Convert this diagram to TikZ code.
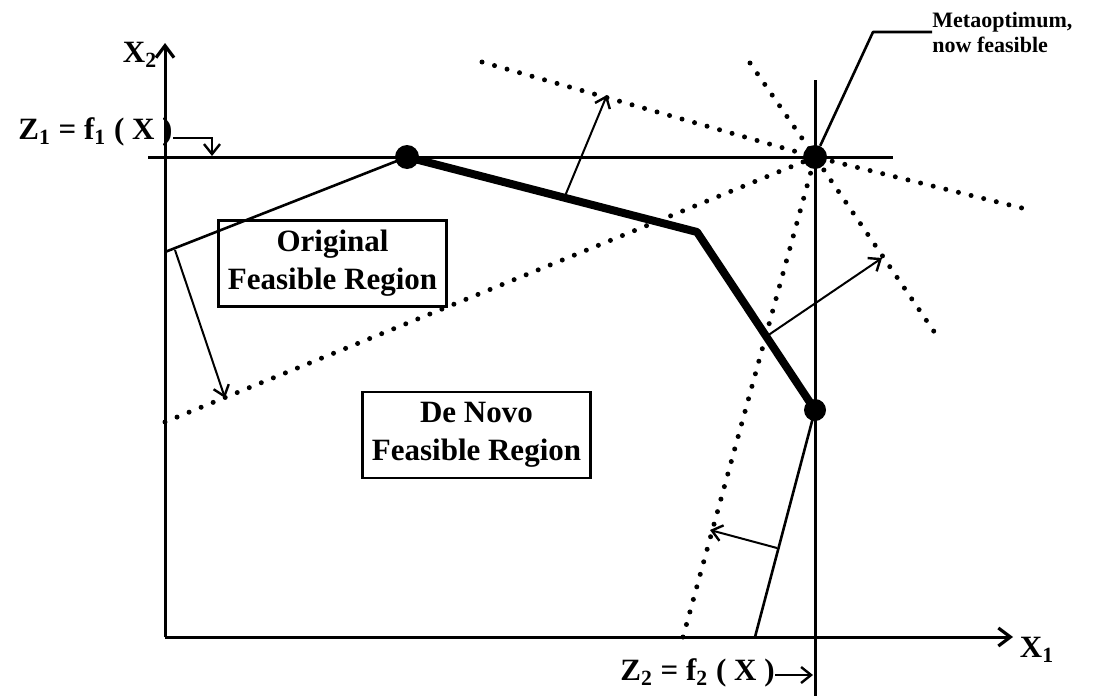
\documentclass[tikz,border=0pt]{standalone}
\usepackage{fontspec}
\setmainfont{Liberation Serif}
\usetikzlibrary{arrows.meta}
\begin{document}
\begin{tikzpicture}[x=0.5pt,y=-0.5pt,
  thinln/.style={line width=1.3pt, line join=round},
  axisln/.style={line width=1.5pt},
  thickln/.style={line width=4pt, line join=round},
  dotln/.style={line width=2.5pt, line cap=round, dash pattern=on 0pt off 6.5pt},
  arr/.style={line width=1pt, -{Straight Barb[length=5pt,width=8pt,line width=1.2pt]}},
  axarr/.style={axisln, -{Straight Barb[length=6pt,width=9pt,line width=1.6pt]}},
  dotpt/.style={circle, fill, inner sep=0pt, minimum size=12pt},
  region/.style={draw, line width=1.2pt, inner sep=0pt, minimum width=114pt, minimum height=43pt, align=center, font=\fontsize{15.5}{19}\selectfont\bfseries},
  lbl/.style={font=\fontsize{15.5}{19}\selectfont\bfseries, inner sep=0pt},
  small/.style={font=\fontsize{11}{12.5}\selectfont\bfseries, inner sep=0pt, align=left}
]
\useasboundingbox (0,0) rectangle (1118,696);

% key points
\coordinate (O) at (165,637);
\coordinate (Ytop) at (165,43);
\coordinate (Xend) at (1013,637);
\coordinate (P0) at (165,252);
\coordinate (C) at (697,232);
\coordinate (D) at (755,637);
\coordinate (Zl) at (148,157);
\coordinate (Zr) at (893,157);
\coordinate (Vt) at (815,80);
\coordinate (Vb) at (815,696);

% dots
\node[dotpt] (A) at (407,157) {};
\node[dotpt] (M) at (815,157) {};
\node[dotpt, minimum size=11pt] (B) at (815,410) {};

% boxes
\node[region] (orig) at (332.5,263.5) {Original\\Feasible Region};
\node[region] (denovo) at (476.5,435) {De Novo\\Feasible Region};

% labels
\node[lbl] (x2) at (140,55) {X\textsubscript{2}};
\node[lbl] (x1) at (1037,650) {X\textsubscript{1}};
\node[lbl, anchor=east] (z1) at (173,132) {Z\textsubscript{1} = f\textsubscript{1} ( X )};
\node[lbl, anchor=east] (z2) at (775,673) {Z\textsubscript{2} = f\textsubscript{2} ( X )};
\node[small, anchor=west] (meta) at (932,32) {Metaoptimum,\\now feasible};

% axes
\draw[axarr] (O) -- (Ytop);
\draw[axarr] (O) -- (Xend);
\draw[axisln] (Zl) -- (Zr);
\draw[axisln] (Vt) -- (Vb);

% Z1 / Z2 pointers
\coordinate (z1a) at (212,138);
\coordinate (z1b) at (212,156);
\draw[arr] (z1.east |- z1a) -- (z1a) -- (z1b);
\coordinate (z2b) at (813,675);
\draw[arr] (z2.east |- z2b) -- (z2b);

% original frontier
\draw[thinln] (P0) -- (A.center);
\draw[thickln] (A.center) -- (C) -- (B.center);
\draw[thinln] (B.center) -- (D);

% dotted (de novo) constraints
\coordinate (L1a) at (165,422);
\coordinate (L2a) at (482,62);
\coordinate (L2b) at (1030,210);
\coordinate (L3a) at (750,63);
\coordinate (L3b) at (935,333);
\coordinate (L4a) at (683,637);
\draw[dotln] (L1a) -- (M.center);
\draw[dotln] (L2a) -- (M.center) -- (L2b);
\draw[dotln] (L3a) -- (M.center) -- (L3b);
\draw[dotln] (L4a) -- (M.center);

% shift arrows
\coordinate (s1) at (565,196); \coordinate (t1) at (607,95);
\coordinate (s2) at (175,250); \coordinate (t2) at (225,398);
\coordinate (s3) at (767,336); \coordinate (t3) at (882,258);
\coordinate (s4) at (777,548); \coordinate (t4) at (710,530);
\draw[arr] (s1) -- (t1);
\draw[arr] (s2) -- (t2);
\draw[arr] (s3) -- (t3);
\draw[arr] (s4) -- (t4);

% metaoptimum leader
\coordinate (k) at (873,32);
\draw[thinln] (M) -- (k) -- (meta.west);
\end{tikzpicture}
\end{document}
